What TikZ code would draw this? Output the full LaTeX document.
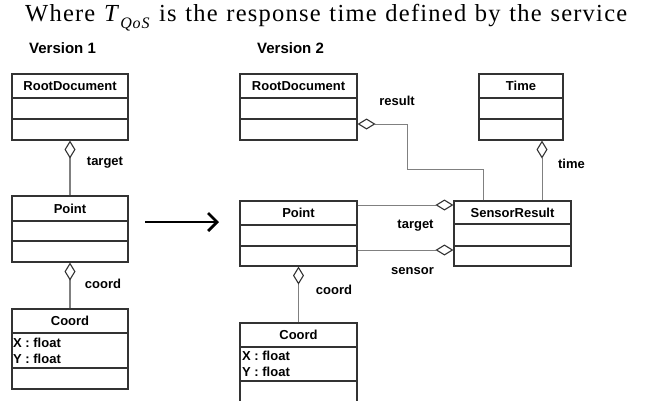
\documentclass[tikz,border=0pt]{standalone}
\usepackage{fontspec}
\setmainfont{Liberation Sans}
\newfontfamily\hdrserif[LetterSpace=5]{Liberation Serif}
\usetikzlibrary{arrows.meta}
\definecolor{boxline}{HTML}{333333}
\definecolor{connline}{HTML}{808080}
\tikzset{
  cls/.style={draw=boxline, line width=1.1pt, fill=white, inner sep=0pt},
  divider/.style={draw=boxline, line width=1.1pt},
  ctitle/.style={font=\fontsize{13}{13}\selectfont\bfseries, inner sep=0pt},
  attr/.style={font=\fontsize{13}{13}\selectfont\bfseries, inner sep=0pt, anchor=base west},
  lbl/.style={font=\fontsize{13}{13}\selectfont\bfseries, inner sep=0pt},
  agg/.style={draw=connline, line width=0.8pt,
    -{Diamond[open, length=18pt, width=11pt, color=boxline, line width=1.1pt]}},
  aggthick/.style={agg, line width=1.3pt},
  bigarrow/.style={draw=black, line width=2.8pt, -{Straight Barb[length=9pt, width=18pt, line width=2.8pt]}},
  vlabel/.style={font=\fontsize{15}{15}\selectfont\bfseries, inner sep=0pt, anchor=base west}
}
\begin{document}
\begin{tikzpicture}[x=1pt,y=-1pt]
\useasboundingbox (0,0) rectangle (648,400);

% header
\node[anchor=base west, inner sep=0pt] (hdr) at (25,21)
  {\hdrserif\fontsize{24.5}{24.5}\selectfont\makebox[602pt][s]{Where \textit{T}\raisebox{-0.3em}{\fontsize{16}{16}\selectfont\textit{QoS}} is the response time defined by the service}};
\node[vlabel] (v1) at (29,53) {Version 1};
\node[vlabel] (v2) at (257,53) {Version 2};

% ---------- Version 1 ----------
\node[cls, minimum width=116pt, minimum height=66pt] (rd1) at (70,107) {};
\node[ctitle] (rd1t) at (70,86) {RootDocument};
\draw[divider] (12,98) -- (128,98);
\draw[divider] (12,119) -- (128,119);

\node[cls, minimum width=116pt, minimum height=66pt] (pt1) at (70,229) {};
\node[ctitle] (pt1t) at (70,208.5) {Point};
\draw[divider] (12,221) -- (128,221);
\draw[divider] (12,241) -- (128,241);

\node[cls, minimum width=116pt, minimum height=80pt] (cd1) at (70,349) {};
\node[ctitle] (cd1t) at (70,321) {Coord};
\draw[divider] (12,333) -- (128,333);
\draw[divider] (12,368) -- (128,368);
\node[attr] (cd1x) at (13,347) {X : float};
\node[attr] (cd1y) at (13,363) {Y : float};

\draw[aggthick] (pt1.north) -- (rd1.south);
\draw[aggthick] (cd1.north) -- (pt1.south);
\node[lbl] (l1) at (105,163) {target};
\node[lbl] (l2) at (103,284) {coord};

% big arrow
\coordinate (aS) at (145,222);
\coordinate (aE) at (219,222);
\draw[bigarrow] (aS) -- (aE);

% ---------- Version 2 ----------
\node[cls, minimum width=117pt, minimum height=66pt] (rd2) at (298.5,107) {};
\node[ctitle] (rd2t) at (298.5,86) {RootDocument};
\draw[divider] (240,98) -- (357,98);
\draw[divider] (240,119) -- (357,119);

\node[cls, minimum width=84pt, minimum height=66pt] (tm) at (521,107) {};
\node[ctitle] (tmt) at (521,86) {Time};
\draw[divider] (479,98) -- (563,98);
\draw[divider] (479,119) -- (563,119);

\node[cls, minimum width=117pt, minimum height=65pt] (pt2) at (298.5,233.5) {};
\node[ctitle] (pt2t) at (298.5,213) {Point};
\draw[divider] (240,225) -- (357,225);
\draw[divider] (240,246) -- (357,246);

\node[cls, minimum width=117pt, minimum height=65pt] (sr) at (512.5,233.5) {};
\node[ctitle] (srt) at (512.5,212.5) {SensorResult};
\draw[divider] (454,224) -- (571,224);
\draw[divider] (454,246) -- (571,246);

\node[cls, minimum width=117pt, minimum height=82pt] (cd2) at (298.5,364) {};
\node[ctitle] (cd2t) at (298.5,335) {Coord};
\draw[divider] (240,347) -- (357,347);
\draw[divider] (240,381) -- (357,381);
\node[attr] (cd2x) at (242,360) {X : float};
\node[attr] (cd2y) at (242,376) {Y : float};

% connectors
\coordinate (rx) at (483,0);
\coordinate (rb) at (407,169);
\coordinate (ry) at (0,124);
\coordinate (tx) at (542,0);
\coordinate (ty) at (0,205);
\coordinate (sy) at (0,250);
\draw[agg] (sr.north -| rx) |- (rb) |- (rd2.east |- ry);
\draw[agg] (sr.north -| tx) -- (tm.south -| tx);
\draw[agg] (pt2.east |- ty) -- (sr.west |- ty);
\draw[agg] (pt2.east |- sy) -- (sr.west |- sy);
\draw[aggthick] (cd2.north) -- (pt2.south);

\node[lbl] (l3) at (397,101) {result};
\node[lbl] (l4) at (571.5,164) {time};
\node[lbl] (l5) at (415.5,226) {target};
\node[lbl] (l6) at (412.5,271) {sensor};
\node[lbl] (l7) at (334,290) {coord};
\end{tikzpicture}
\end{document}
